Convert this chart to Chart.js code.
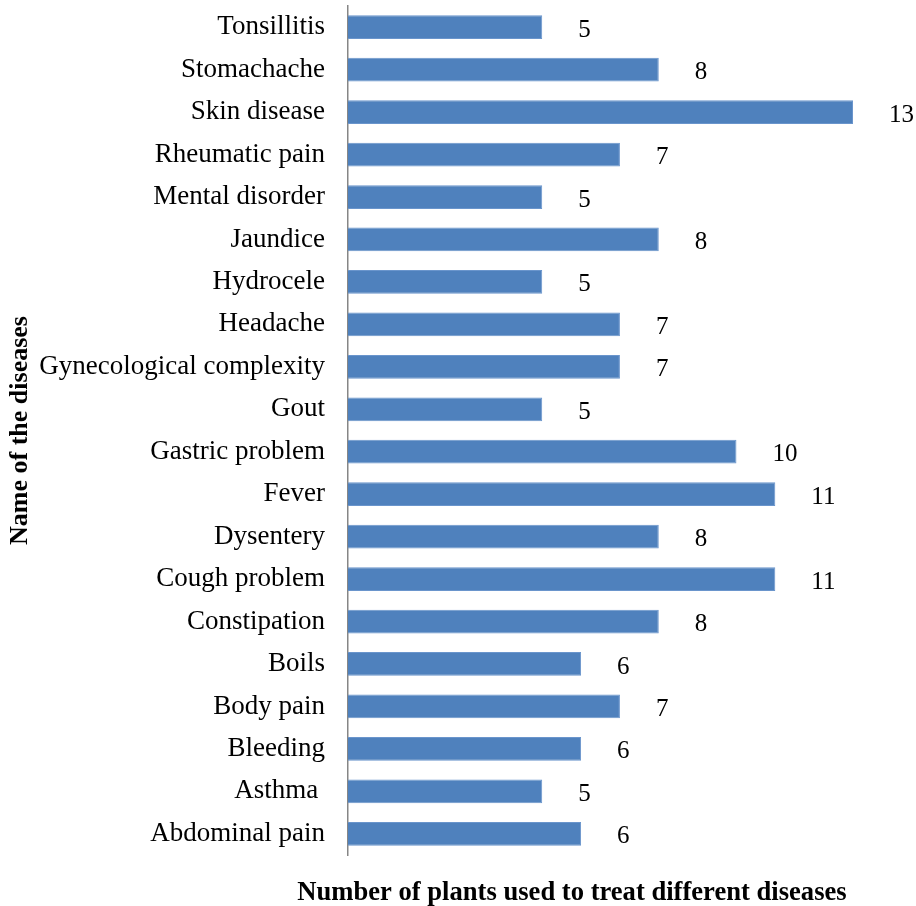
<!DOCTYPE html>
<html>
<head>
<meta charset="utf-8">
<script src="https://cdn.jsdelivr.net/npm/chart.js@4.4.0/dist/chart.umd.min.js"></script>
<style>
  html, body { margin: 0; padding: 0; background: #fff; }
  #wrap { width: 916px; height: 906px; }
</style>
</head>
<body>
<div id="wrap"><canvas id="diseases-chart"></canvas></div>
<script>
const diseases = [
  "Tonsillitis",
  "Stomachache",
  "Skin disease",
  "Rheumatic pain",
  "Mental disorder",
  "Jaundice",
  "Hydrocele",
  "Headache",
  "Gynecological complexity",
  "Gout",
  "Gastric problem",
  "Fever",
  "Dysentery",
  "Cough problem",
  "Constipation",
  "Boils",
  "Body pain",
  "Bleeding",
  "Asthma ",
  "Abdominal pain",
];
const plantCounts = [5, 8, 13, 7, 5, 8, 5, 7, 7, 5, 10, 11, 8, 11, 8, 6, 7, 6, 5, 6];
const xTitle = "Number of plants used to treat different diseases";
const yTitle = "Name of the diseases";

const serif = "'Liberation Serif', 'Times New Roman', serif";

// value labels right of each bar + the x axis title
const labelsPlugin = {
  id: "barLabels",
  afterDatasetsDraw(chart) {
    const ctx = chart.ctx;
    const meta = chart.getDatasetMeta(0);
    ctx.save();
    ctx.fillStyle = "#000";
    ctx.font = "25px " + serif;
    ctx.textAlign = "left";
    ctx.textBaseline = "middle";
    meta.data.forEach((bar, i) => {
      ctx.fillText(String(plantCounts[i]), bar.x + 36, bar.y + 3);
    });
    ctx.font = "bold 26.6px " + serif;
    ctx.textAlign = "center";
    ctx.fillText(xTitle, 572, 893);
    ctx.restore();
  },
};

new Chart(document.getElementById("diseases-chart"), {
  type: "bar",
  data: {
    labels: diseases,
    datasets: [
      {
        label: "Plants",
        backgroundColor: "#4f81bd",
        borderColor: "#6a95cc",
        borderWidth: 1,
        data: plantCounts,
        barPercentage: 0.56,
        categoryPercentage: 1,
      },
    ],
  },
  options: {
    indexAxis: "y",
    responsive: true,
    maintainAspectRatio: false,
    animation: false,
    layout: {
      padding: { top: 6, right: 63, left: 0, bottom: 0 },
    },
    plugins: {
      legend: { display: false },
      tooltip: { enabled: false },
    },
    scales: {
      x: {
        min: 0,
        max: 13,
        grid: { display: false, drawTicks: false },
        border: { display: false },
        ticks: { display: false },
        afterFit(scale) {
          scale.height = 51;
          scale.paddingLeft = 0;
          scale.paddingRight = 0;
        },
      },
      y: {
        grid: { display: false, drawTicks: false },
        border: { display: true, color: "#868686", width: 1.5 },
        ticks: {
          color: "#000",
          padding: 23,
          font: { family: serif, size: 27 },
        },
        title: {
          display: true,
          text: yTitle,
          color: "#000",
          padding: { top: 5, bottom: 0 },
          font: { family: serif, size: 26, weight: "bold" },
        },
        afterFit(scale) {
          scale.width = 348;
          scale.paddingTop = 0;
          scale.paddingBottom = 0;
        },
      },
    },
  },
  plugins: [labelsPlugin],
});
</script>
</body>
</html>
